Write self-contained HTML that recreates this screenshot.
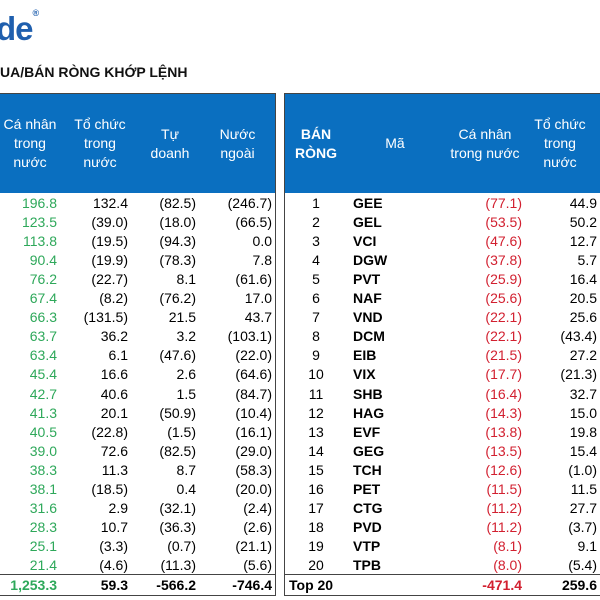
<!DOCTYPE html>
<html><head><meta charset="utf-8">
<style>
body{margin:0;width:600px;height:600px;background:#fff;overflow:hidden;font-family:"Liberation Sans",Arial,sans-serif;position:relative}
.a{position:absolute;white-space:nowrap}
.hdr{position:absolute;background:#0a6fc0;color:#fff;font-size:14px;line-height:19px;text-align:center}
.box{position:absolute;border:1px solid #444;box-sizing:border-box}
.c{position:absolute;font-size:14px;line-height:16px;white-space:nowrap}
.r{text-align:right}
.g{color:#2ea85a}.red{color:#d22030}.b{font-weight:bold}
</style></head><body>
<div class="a" style="left:-4px;top:10px;font-size:33px;font-weight:bold;color:#1f5fae;letter-spacing:-1px">de<span style="font-size:9px;vertical-align:top;position:relative;top:-2px">®</span></div>
<div class="a" style="left:0;top:64px;font-size:14px;font-weight:bold;color:#111">UA/BÁN RÒNG KHỚP LỆNH</div>

<div class="box" style="left:-2px;top:93px;width:278px;height:503px"></div>
<div class="hdr" style="left:0;top:94px;width:275px;height:99px"></div>
<div class="box" style="left:284px;top:93px;width:320px;height:503px"></div>
<div class="hdr" style="left:285px;top:94px;width:316px;height:99px"></div>
<div class="a" style="left:0;top:574px;width:276px;border-top:1px solid #444"></div>
<div class="a" style="left:285px;top:574px;width:316px;border-top:1px solid #444"></div>

<div class="hdr" style="left:0;top:115px;width:60px;background:none">Cá nhân<br>trong<br>nước</div>
<div class="hdr" style="left:68px;top:115px;width:64px;background:none">Tổ chức<br>trong<br>nước</div>
<div class="hdr" style="left:140px;top:125px;width:60px;background:none">Tự<br>doanh</div>
<div class="hdr" style="left:205px;top:125px;width:65px;background:none">Nước<br>ngoài</div>
<div class="hdr b" style="left:290px;top:125px;width:52px;background:none">BÁN<br>RÒNG</div>
<div class="hdr" style="left:375px;top:134px;width:40px;background:none">Mã</div>
<div class="hdr" style="left:440px;top:125px;width:90px;background:none">Cá nhân<br>trong nước</div>
<div class="hdr" style="left:528px;top:115px;width:64px;background:none">Tổ chức<br>trong<br>nước</div>

<script>
const caNhanL=["196.8","123.5","113.8","90.4","76.2","67.4","66.3","63.7","63.4","45.4","42.7","41.3","40.5","39.0","38.3","38.1","31.6","28.3","25.1","21.4"];
const toChucL=["132.4","(39.0)","(19.5)","(19.9)","(22.7)","(8.2)","(131.5)","36.2","6.1","16.6","40.6","20.1","(22.8)","72.6","11.3","(18.5)","2.9","10.7","(3.3)","(4.6)"];
const tuDoanhL=["(82.5)","(18.0)","(94.3)","(78.3)","8.1","(76.2)","21.5","3.2","(47.6)","2.6","1.5","(50.9)","(1.5)","(82.5)","8.7","0.4","(32.1)","(36.3)","(0.7)","(11.3)"];
const nuocNgoaiL=["(246.7)","(66.5)","0.0","7.8","(61.6)","17.0","43.7","(103.1)","(22.0)","(64.6)","(84.7)","(10.4)","(16.1)","(29.0)","(58.3)","(20.0)","(2.4)","(2.6)","(21.1)","(5.6)"];
const maR=["GEE","GEL","VCI","DGW","PVT","NAF","VND","DCM","EIB","VIX","SHB","HAG","EVF","GEG","TCH","PET","CTG","PVD","VTP","TPB"];
const caNhanR=["(77.1)","(53.5)","(47.6)","(37.8)","(25.9)","(25.6)","(22.1)","(22.1)","(21.5)","(17.7)","(16.4)","(14.3)","(13.8)","(13.5)","(12.6)","(11.5)","(11.2)","(11.2)","(8.1)","(8.0)"];
const toChucR=["44.9","50.2","12.7","5.7","16.4","20.5","25.6","(43.4)","27.2","(21.3)","32.7","15.0","19.8","15.4","(1.0)","11.5","27.7","(3.7)","9.1","(5.4)"];
const totals=["1,253.3","59.3","-566.2","-746.4","-471.4","259.6"];
function cell(txt,cls,style,name){const d=document.createElement('div');d.className='c '+cls;d.textContent=txt;d.style.cssText=style;


document.body.appendChild(d);}
for(let i=0;i<20;i++){const y=195+i*19.05;
cell(caNhanL[i],'r g',`left:0;width:57px;top:${y}px`,'ca-nhan-value');
cell(toChucL[i],'r',`left:70px;width:58px;top:${y}px`,'to-chuc-value');
cell(tuDoanhL[i],'r',`left:140px;width:56px;top:${y}px`,'tu-doanh-value');
cell(nuocNgoaiL[i],'r',`left:210px;width:62px;top:${y}px`,'nuoc-ngoai-value');
cell(String(i+1),'',`left:296px;width:40px;text-align:center;top:${y}px`,'rank');
cell(maR[i],'b',`left:353px;top:${y}px`,'ticker');
cell(caNhanR[i],'r red',`left:440px;width:82px;top:${y}px`,'ca-nhan-r-value');
cell(toChucR[i],'r',`left:530px;width:67px;top:${y}px`,'to-chuc-r-value');}
const ty=577;
cell(totals[0],'r g b',`left:0;width:57px;top:${ty}px`,'total-ca-nhan');
cell(totals[1],'r b',`left:70px;width:58px;top:${ty}px`,'total-to-chuc');
cell(totals[2],'r b',`left:140px;width:56px;top:${ty}px`,'total-tu-doanh');
cell(totals[3],'r b',`left:210px;width:62px;top:${ty}px`,'total-nuoc-ngoai');
cell('Top 20','b',`left:289px;top:${ty}px`,'total-label');
cell(totals[4],'r red b',`left:440px;width:82px;top:${ty}px`,'total-ca-nhan-r');
cell(totals[5],'r b',`left:530px;width:67px;top:${ty}px`,'total-to-chuc-r');
</script>
</body></html>
